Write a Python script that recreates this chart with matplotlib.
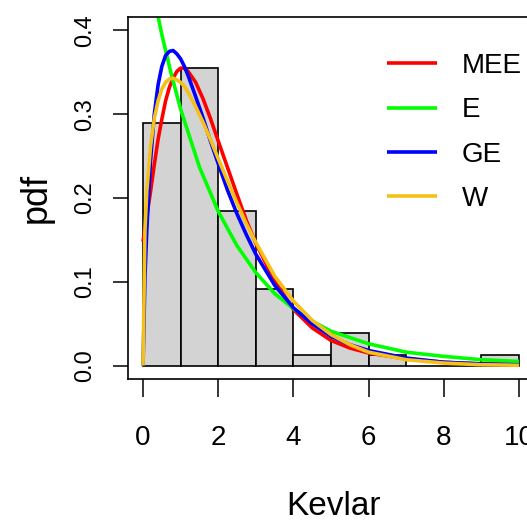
import numpy as np
import matplotlib
matplotlib.use('Agg')
import matplotlib.pyplot as plt
import matplotlib.font_manager as fm

# histogram of the Kevlar data (density scale, unit bins)
bin_left = [0, 1, 2, 3, 4, 5, 6, 7, 8, 9]
density = [0.289, 0.355, 0.184, 0.092, 0.013, 0.039, 0.013, 0.0, 0.0, 0.013]

# fitted densities
x_mee = [0, 0.05, 0.1, 0.2, 0.3, 0.4, 0.5, 0.6, 0.7, 0.8, 0.9, 1.0, 1.1, 1.2, 1.4, 1.6,
         1.8, 2.0, 2.25, 2.5, 2.75, 3.0, 3.5, 4.0, 4.5, 5.0, 5.5, 6.0, 7.0, 8.0, 9.0, 10.0]
y_mee = [0.148, 0.163, 0.178, 0.208, 0.240, 0.270, 0.294, 0.316, 0.332, 0.343, 0.351, 0.355,
         0.355, 0.351, 0.338, 0.318, 0.294, 0.268, 0.236, 0.204, 0.173, 0.146, 0.101, 0.067,
         0.045, 0.030, 0.021, 0.015, 0.008, 0.004, 0.002, 0.001]

x_e = [0, 0.25, 0.5, 0.75, 1.0, 1.5, 2.0, 2.5, 3.0, 3.5, 4.0, 4.5, 5.0, 6.0, 7.0, 8.0, 9.0, 10.0]
y_e = [0.510, 0.449, 0.395, 0.348, 0.306, 0.237, 0.184, 0.143, 0.111, 0.086, 0.068, 0.053,
       0.041, 0.026, 0.016, 0.011, 0.007, 0.005]

x_ge = [0, 0.05, 0.1, 0.2, 0.3, 0.4, 0.5, 0.6, 0.7, 0.8, 0.9, 1.0, 1.1, 1.2, 1.4, 1.6,
        1.8, 2.0, 2.25, 2.5, 2.75, 3.0, 3.5, 4.0, 4.5, 5.0, 5.5, 6.0, 7.0, 8.0, 9.0, 10.0]
y_ge = [0.0, 0.105, 0.162, 0.245, 0.300, 0.335, 0.357, 0.370, 0.375, 0.376, 0.372, 0.366,
        0.357, 0.346, 0.321, 0.295, 0.267, 0.241, 0.209, 0.181, 0.156, 0.133, 0.096, 0.069,
        0.050, 0.035, 0.025, 0.018, 0.009, 0.004, 0.002, 0.001]

x_w = [0, 0.05, 0.1, 0.2, 0.3, 0.4, 0.5, 0.6, 0.7, 0.8, 0.9, 1.0, 1.1, 1.2, 1.4, 1.6,
       1.8, 2.0, 2.25, 2.5, 2.75, 3.0, 3.5, 4.0, 4.5, 5.0, 5.5, 6.0, 7.0, 8.0, 9.0, 10.0]
y_w = [0.0, 0.160, 0.208, 0.262, 0.295, 0.316, 0.330, 0.338, 0.342, 0.343, 0.341, 0.338,
       0.333, 0.326, 0.309, 0.290, 0.269, 0.247, 0.220, 0.194, 0.169, 0.147, 0.107, 0.077,
       0.054, 0.037, 0.025, 0.016, 0.007, 0.003, 0.001, 0.0004]

labels = ['MEE', 'E', 'GE', 'W']
colors = ['#FF0000', '#00FF00', '#0000FF', '#F5C117']

names = {f.name for f in fm.fontManager.ttflist}
if 'Liberation Sans Narrow' in names:
    narrow = 'Liberation Sans Narrow'
    tick_fs, title_fs, leg_fs = 23, 29, 23
else:
    narrow = 'Liberation Sans'
    tick_fs, title_fs, leg_fs = 20, 24, 20
wide = 'Liberation Sans'

fig = plt.figure(figsize=(5.27, 5.24), dpi=100)
ax = fig.add_axes([128/527, 1 - 379/524, 406/527, 362/524])

ax.bar(bin_left, density, width=1, align='edge', color='#D3D3D3',
       edgecolor='black', linewidth=1.2)

for xs, ys, lab, col in zip([x_mee, x_e, x_ge, x_w], [y_mee, y_e, y_ge, y_w], labels, colors):
    ax.plot(xs, ys, color=col, lw=2.6, label=lab, solid_capstyle='butt')

ax.set_xlim(-0.4, 10.4)
ax.set_ylim(-0.016, 0.416)
ax.set_xticks([0, 2, 4, 6, 8, 10])
ax.set_yticks([0.0, 0.1, 0.2, 0.3, 0.4])
ax.set_xticklabels(['0', '2', '4', '6', '8', '10'], family=narrow, fontsize=tick_fs)
ax.set_yticklabels(['0.0', '0.1', '0.2', '0.3', '0.4'], family=wide, fontsize=17,
                   rotation=90, va='center')
ax.tick_params(axis='x', length=13, width=1.1, pad=20)
ax.tick_params(axis='y', length=11, width=1.1, pad=12)
for s in ax.spines.values():
    s.set_linewidth(1.2)

ax.set_xlabel('Kevlar', family=narrow, fontsize=title_fs)
ax.xaxis.label.set_va('center')
ax.xaxis.set_label_coords(0.505, -0.352)
ax.set_ylabel('pdf', family=wide, fontsize=26)
ax.yaxis.label.set_va('center')
ax.yaxis.set_label_coords(-0.2266, 0.5)

ax.legend(loc='upper left', bbox_to_anchor=(387/527, 1 - 53/524),
          bbox_transform=fig.transFigure, frameon=False, borderpad=0,
          borderaxespad=0, handlelength=50/(leg_fs*100/72), handletextpad=25/(leg_fs*100/72),
          labelspacing=0.66, prop={'family': narrow, 'size': leg_fs})

fig.savefig('out.png', dpi=100)
